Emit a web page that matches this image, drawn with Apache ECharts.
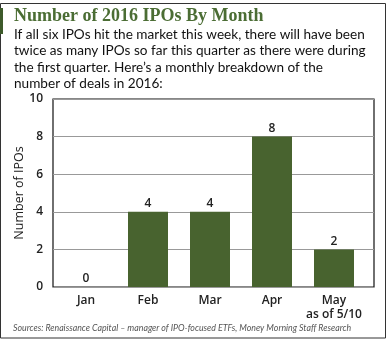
<!DOCTYPE html>
<html><head><meta charset="utf-8">
<script src="https://cdn.jsdelivr.net/npm/echarts@6/dist/echarts.min.js"></script>
<style>html,body{margin:0;padding:0;background:#fff}#c{width:390px;height:340px}</style>
</head><body><div id="c"></div>
<script>
const categories = ['Jan', 'Feb', 'Mar', 'Apr', 'May\nas of 5/10'];
const ipoCounts = [0, 4, 4, 8, 2];
const yTicks = [0, 2, 4, 6, 8, 10];
const titleText = 'Number of 2016 IPOs By Month';
const subText = 'If all six IPOs hit the market this week, there will have been\ntwice as many IPOs so far this quarter as there were during\nthe first quarter. Here\u2019s a monthly breakdown of the\nnumber of deals in 2016:';
const sourceText = 'Sources: Renaissance Capital \u2013 manager of IPO-focused ETFs, Money Morning Staff Research';
const yName = 'Number of IPOs';

const chart = echarts.init(document.getElementById('c'), null, {renderer: 'canvas'});
const green = '#48632f';
chart.setOption({
  animation: false,
  title: [
    {text: titleText, left: 14, top: 6, padding: 0,
     textStyle: {fontFamily: 'Liberation Serif', fontWeight: 'bold', fontSize: 18, color: '#4b6d34', lineHeight: 20},
     subtext: subText, itemGap: 0,
     subtextStyle: {fontFamily: 'Lato', fontSize: 13.6, color: '#111', lineHeight: 16.6}},
    {text: sourceText, left: 13, top: 324, padding: 0,
     textStyle: {fontFamily: 'Lato', fontStyle: 'italic', fontWeight: 'normal', fontSize: 8.8, color: '#555'}}
  ],
  graphic: [
    {type: 'rect', shape: {x: 0.5, y: 3.5, width: 385, height: 334.5}, style: {fill: 'none', stroke: '#333', lineWidth: 1}, silent: true},
    {type: 'rect', shape: {x: 0, y: 8, width: 3, height: 26}, style: {fill: '#3d5a2a'}, silent: true}
  ],
  grid: [
    {left: 53, top: 99, width: 321, height: 188, show: true, borderColor: '#111', borderWidth: 1.2},
    {left: 55, top: 99, width: 310, height: 188}
  ],
  xAxis: [
    {type: 'category', gridIndex: 0, data: categories, show: false},
    {type: 'category', gridIndex: 1, data: categories,
     axisLine: {show: false}, axisTick: {show: false},
     axisLabel: {interval: 0, margin: 7, color: '#222', fontFamily: 'Open Sans', fontWeight: 600, fontSize: 12, lineHeight: 14}}
  ],
  yAxis: [
    {type: 'value', gridIndex: 0, min: 0, max: 10, interval: 2,
     name: yName, nameLocation: 'middle', nameGap: 27, nameMoveOverlap: false,
     nameTextStyle: {fontFamily: 'Open Sans', fontSize: 12.5, color: '#222'},
     axisLine: {show: false}, axisTick: {show: false},
     axisLabel: {margin: 10, color: '#222', fontFamily: 'Open Sans', fontWeight: 600, fontSize: 12,
       formatter: v => yTicks.includes(v) ? String(v) : ''},
     splitLine: {show: true, lineStyle: {color: '#999', width: 1}}},
    {type: 'value', gridIndex: 1, min: 0, max: 10, interval: 2, show: false, splitLine: {show: false}}
  ],
  series: [{
    type: 'bar', xAxisIndex: 1, yAxisIndex: 1, data: ipoCounts, barWidth: 40,
    itemStyle: {color: green},
    label: {show: true, position: 'top', distance: 2, color: '#222', fontFamily: 'Open Sans', fontWeight: 600, fontSize: 12}
  }]
});
</script></body></html>
